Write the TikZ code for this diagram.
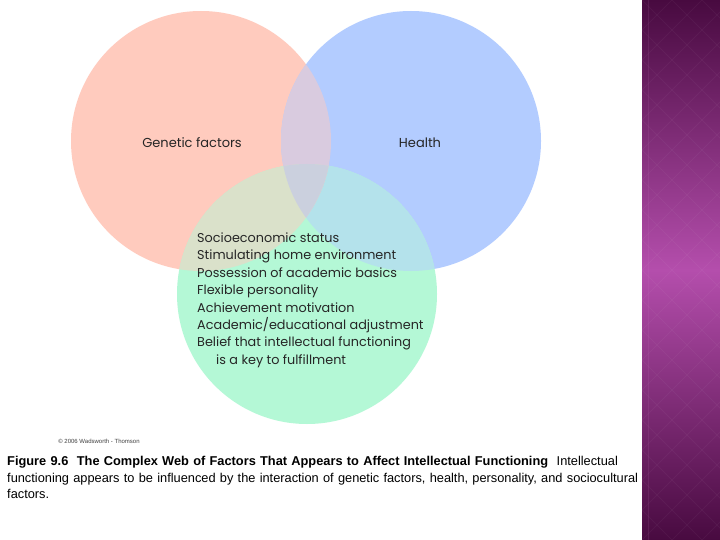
\documentclass[tikz,border=0pt]{standalone}
\usepackage{fontspec}
\setmainfont{Liberation Sans}
\newfontfamily\vennfont{Poppins}
\usetikzlibrary{positioning}

\definecolor{geneticred}{RGB}{255,203,190}
\definecolor{healthblue}{RGB}{179,204,255}
\definecolor{socialgreen}{RGB}{180,248,214}
\definecolor{triplemix}{RGB}{203,208,222}
\definecolor{plumdark}{RGB}{72,10,64}
\definecolor{plumlight}{RGB}{180,78,172}

\begin{document}
\begin{tikzpicture}[x=1pt,y=-1pt,
circle label/.style={font=\vennfont\fontsize{13}{15}\selectfont,text=black!85,inner sep=0pt},
factor list/.style={font=\vennfont\fontsize{12.8}{17.4}\selectfont,text=black!85,align=left,anchor=north west,inner sep=0pt},
caption text/.style={font=\fontsize{12.8}{16.3}\selectfont,align=left,anchor=north west,inner sep=0pt,text width=650pt},
diamond line/.style={white,opacity=0.04,line width=0.8pt}]
\useasboundingbox (0,0) rectangle (720,540);
\fill[white] (0,0) rectangle (720,540);
% the three circles
\fill[geneticred] (201,141) circle[radius=130];
\fill[healthblue] (411,141) circle[radius=130];
\fill[socialgreen] (307,294) circle[radius=130];
\begin{scope}
\clip (411,141) circle[radius=130];
\fill[healthblue!50!socialgreen] (307,294) circle[radius=130];
\end{scope}
\begin{scope}
\clip (201,141) circle[radius=130];
\fill[geneticred!50!healthblue] (411,141) circle[radius=130];
\fill[geneticred!50!socialgreen] (307,294) circle[radius=130];
\clip (411,141) circle[radius=130];
\fill[triplemix] (307,294) circle[radius=130];
\end{scope}
\node[circle label] (genetic) at (192,143) {Genetic factors};
\node[circle label] (health) at (420,143) {Health};
\node[factor list] (factors) at (197,232.5) {Socioeconomic status\\Stimulating home environment\\Possession of academic basics\\Flexible personality\\Achievement motivation\\Academic/educational adjustment\\Belief that intellectual functioning\\\hspace{19pt}is a key to fulfillment};
% side band
\shade[top color=plumdark,bottom color=plumdark,middle color=plumlight] (642,0) rectangle (720,540);
\begin{scope}
\clip (642,0) rectangle (720,540);
\foreach \k in {-90,-60,...,630} {
\draw[diamond line] (642,\k) -- ++(78,78);
\draw[diamond line] (642,\k) -- ++(78,-78);
}
\draw[plumlight!70!white,opacity=0.12,line width=1pt] (648,0) -- (648,540);
\end{scope}
\node[font=\fontsize{6}{7}\selectfont,text=black!75] (copyright) at (99,441) {\textcopyright\ 2006 Wadsworth - Thomson};
\node[caption text] (caption) at (7,456.5) {{\bfseries Figure 9.6\ \ The Complex Web of Factors That Appears to Affect Intellectual Functioning}\ \ Intellectual\\functioning appears to be influenced by the interaction of genetic factors, health, personality, and sociocultural\\factors.};
\end{tikzpicture}
\end{document}
